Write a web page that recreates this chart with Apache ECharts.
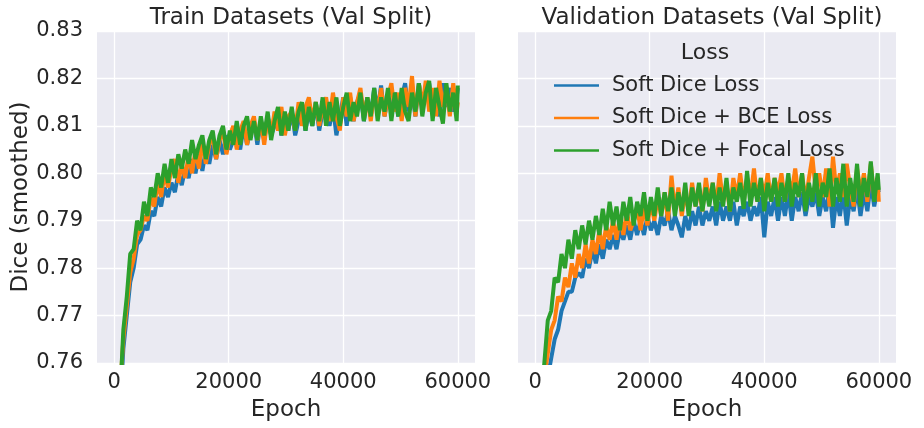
<!DOCTYPE html>
<html>
<head>
<meta charset="utf-8">
<script src="https://cdn.jsdelivr.net/npm/echarts@6/dist/echarts.min.js"></script>
<style>
  html, body { margin: 0; padding: 0; background: #fff; }
  #chart { width: 924px; height: 428px; }
</style>
</head>
<body>
<div id="chart"></div>
<script>
const epochs = [
  1000, 1600, 2200, 2800, 3400, 4000, 4600, 5200, 5800, 6400,
  7000, 7600, 8200, 8800, 9400, 10000, 10600, 11200, 11800, 12400,
  13000, 13600, 14200, 14800, 15400, 16000, 16600, 17200, 17800, 18400,
  19000, 19600, 20200, 20800, 21400, 22000, 22600, 23200, 23800, 24400,
  25000, 25600, 26200, 26800, 27400, 28000, 28600, 29200, 29800, 30400,
  31000, 31600, 32200, 32800, 33400, 34000, 34600, 35200, 35800, 36400,
  37000, 37600, 38200, 38800, 39400, 40000, 40600, 41200, 41800, 42400,
  43000, 43600, 44200, 44800, 45400, 46000, 46600, 47200, 47800, 48400,
  49000, 49600, 50200, 50800, 51400, 52000, 52600, 53200, 53800, 54400,
  55000, 55600, 56200, 56800, 57400, 58000, 58600, 59200, 59800, 60000
];
const xTicks = [0, 20000, 40000, 60000];
const lossNames = ['Soft Dice Loss', 'Soft Dice + BCE Loss', 'Soft Dice + Focal Loss'];
const panelTitles = ['Train Datasets (Val Split)', 'Validation Datasets (Val Split)'];

// train panel
const trainSoftDice = [
  0.750, 0.763, 0.770, 0.777, 0.780, 0.785, 0.786, 0.789, 0.788, 0.792,
  0.791, 0.795, 0.793, 0.797, 0.795, 0.798, 0.796, 0.800, 0.7975, 0.801,
  0.799, 0.803, 0.800, 0.804, 0.8005, 0.805, 0.802, 0.806, 0.803, 0.807,
  0.804, 0.808, 0.805, 0.807, 0.809, 0.805, 0.810, 0.806, 0.809, 0.811,
  0.806, 0.811, 0.807, 0.812, 0.808, 0.810, 0.813, 0.808, 0.812, 0.809,
  0.813, 0.808, 0.811, 0.814, 0.809, 0.813, 0.810, 0.815, 0.809, 0.813,
  0.815, 0.810, 0.814, 0.808, 0.812, 0.816, 0.810, 0.816, 0.811, 0.815,
  0.817, 0.811, 0.816, 0.812, 0.818, 0.813, 0.8185, 0.812, 0.816, 0.813,
  0.817, 0.812, 0.816, 0.819, 0.813, 0.817, 0.812, 0.819, 0.814, 0.817,
  0.819, 0.813, 0.817, 0.812, 0.819, 0.814, 0.818, 0.813, 0.816, 0.818
];
const trainBce = [
  0.754, 0.765, 0.772, 0.779, 0.782, 0.787, 0.788, 0.791, 0.790, 0.795,
  0.793, 0.798, 0.795, 0.800, 0.797, 0.801, 0.803, 0.798, 0.802, 0.799,
  0.804, 0.800, 0.805, 0.801, 0.807, 0.802, 0.806, 0.808, 0.803, 0.807,
  0.809, 0.804, 0.808, 0.810, 0.805, 0.809, 0.811, 0.806, 0.810, 0.812,
  0.807, 0.811, 0.806, 0.812, 0.808, 0.813, 0.809, 0.814, 0.808, 0.812,
  0.813, 0.809, 0.815, 0.810, 0.814, 0.816, 0.811, 0.815, 0.810, 0.814,
  0.816, 0.811, 0.817, 0.812, 0.809, 0.816, 0.812, 0.817, 0.811, 0.815,
  0.818, 0.812, 0.816, 0.811, 0.817, 0.813, 0.818, 0.812, 0.816, 0.819,
  0.813, 0.817, 0.811, 0.818, 0.814, 0.8205, 0.812, 0.819, 0.814, 0.8195,
  0.813, 0.818, 0.812, 0.8195, 0.814, 0.818, 0.812, 0.819, 0.813, 0.815
];
const trainFocal = [
  0.752, 0.767, 0.774, 0.783, 0.784, 0.790, 0.788, 0.794, 0.791, 0.797,
  0.795, 0.800, 0.797, 0.802, 0.798, 0.803, 0.799, 0.804, 0.801, 0.805,
  0.802, 0.807, 0.803, 0.806, 0.808, 0.803, 0.807, 0.809, 0.804, 0.808,
  0.810, 0.805, 0.809, 0.806, 0.811, 0.806, 0.810, 0.812, 0.807, 0.811,
  0.807, 0.812, 0.808, 0.813, 0.807, 0.811, 0.814, 0.808, 0.813, 0.809,
  0.814, 0.809, 0.813, 0.815, 0.809, 0.814, 0.810, 0.815, 0.811, 0.816,
  0.810, 0.815, 0.811, 0.816, 0.810, 0.814, 0.817, 0.811, 0.815, 0.812,
  0.817, 0.811, 0.816, 0.812, 0.818, 0.811, 0.816, 0.813, 0.818, 0.811,
  0.817, 0.812, 0.818, 0.813, 0.811, 0.817, 0.813, 0.819, 0.812, 0.817,
  0.8195, 0.811, 0.818, 0.814, 0.8105, 0.819, 0.813, 0.817, 0.811, 0.8185
];

// validation panel
const valSoftDice = [
  0.745, 0.752, 0.757, 0.761, 0.765, 0.767, 0.771, 0.773, 0.775, 0.775,
  0.778, 0.779, 0.778, 0.782, 0.780, 0.784, 0.781, 0.785, 0.782, 0.786,
  0.784, 0.787, 0.784, 0.788, 0.786, 0.789, 0.786, 0.790, 0.787, 0.790,
  0.787, 0.791, 0.788, 0.790, 0.787, 0.791, 0.789, 0.792, 0.788, 0.791,
  0.789, 0.7865, 0.791, 0.788, 0.792, 0.789, 0.793, 0.789, 0.792, 0.790,
  0.793, 0.789, 0.794, 0.790, 0.793, 0.790, 0.794, 0.789, 0.793, 0.791,
  0.794, 0.790, 0.793, 0.791, 0.795, 0.7865, 0.794, 0.791, 0.795, 0.790,
  0.795, 0.791, 0.796, 0.790, 0.795, 0.792, 0.796, 0.791, 0.795, 0.793,
  0.796, 0.791, 0.795, 0.792, 0.797, 0.7885, 0.795, 0.791, 0.796, 0.789,
  0.795, 0.792, 0.797, 0.791, 0.796, 0.792, 0.798, 0.793, 0.797, 0.796
];
const valBce = [
  0.750, 0.757, 0.762, 0.767, 0.769, 0.774, 0.773, 0.778, 0.776, 0.781,
  0.778, 0.783, 0.780, 0.785, 0.781, 0.786, 0.783, 0.788, 0.784, 0.789,
  0.786, 0.790, 0.786, 0.791, 0.787, 0.792, 0.788, 0.790, 0.793, 0.788,
  0.793, 0.789, 0.794, 0.790, 0.795, 0.791, 0.796, 0.790, 0.7995, 0.792,
  0.797, 0.791, 0.796, 0.792, 0.798, 0.793, 0.797, 0.792, 0.799, 0.794,
  0.798, 0.793, 0.800, 0.794, 0.798, 0.792, 0.799, 0.795, 0.800, 0.794,
  0.799, 0.795, 0.801, 0.794, 0.799, 0.795, 0.800, 0.794, 0.799, 0.796,
  0.800, 0.794, 0.799, 0.796, 0.801, 0.795, 0.800, 0.794, 0.799, 0.8035,
  0.796, 0.800, 0.795, 0.801, 0.793, 0.8035, 0.796, 0.800, 0.795, 0.802,
  0.797, 0.793, 0.801, 0.796, 0.800, 0.794, 0.802, 0.795, 0.799, 0.794
];
const valFocal = [
  0.752, 0.760, 0.769, 0.771, 0.778, 0.777, 0.783, 0.780, 0.786, 0.782,
  0.788, 0.784, 0.789, 0.785, 0.790, 0.786, 0.791, 0.787, 0.7925, 0.788,
  0.794, 0.789, 0.793, 0.788, 0.794, 0.790, 0.795, 0.789, 0.794, 0.791,
  0.796, 0.790, 0.795, 0.791, 0.797, 0.791, 0.796, 0.792, 0.797, 0.791,
  0.796, 0.792, 0.798, 0.791, 0.797, 0.793, 0.798, 0.792, 0.797, 0.793,
  0.798, 0.792, 0.797, 0.793, 0.799, 0.792, 0.797, 0.794, 0.798, 0.7925,
  0.8005, 0.793, 0.798, 0.794, 0.799, 0.792, 0.798, 0.794, 0.799, 0.793,
  0.798, 0.794, 0.800, 0.793, 0.798, 0.795, 0.800, 0.792, 0.798, 0.794,
  0.800, 0.793, 0.798, 0.795, 0.801, 0.793, 0.799, 0.794, 0.802, 0.793,
  0.799, 0.794, 0.802, 0.793, 0.799, 0.795, 0.8025, 0.794, 0.800, 0.7965
];

const colors = ['#1f77b4', '#ff7f0e', '#2ca02c'];
const textColor = '#262626';
const font = 'DejaVu Sans';

function pairs(vals) {
  return epochs.map((e, i) => [e, vals[i]]);
}

function xAxisFor(gridIndex) {
  return {
    gridIndex: gridIndex,
    type: 'value',
    min: -3000,
    max: 63000,
    name: 'Epoch',
    nameLocation: 'middle',
    nameGap: 36,
    nameTextStyle: { color: textColor, fontSize: 23, fontFamily: font },
    axisLine: { show: false },
    axisTick: { show: false, customValues: xTicks },
    axisLabel: {
      customValues: xTicks, color: textColor, fontSize: 21, fontFamily: font, margin: 9,
      formatter: v => String(v)
    },
    splitLine: { show: true, lineStyle: { color: '#fff', width: 1.3 } }
  };
}

function yAxisFor(gridIndex, showLabels) {
  return {
    gridIndex: gridIndex,
    type: 'value',
    min: 0.76,
    max: 0.83,
    interval: 0.01,
    name: showLabels ? 'Dice (smoothed)' : '',
    nameLocation: 'middle',
    nameGap: 62,
    nameTextStyle: { color: textColor, fontSize: 23, fontFamily: font },
    axisLine: { show: false },
    axisTick: { show: false },
    axisLabel: {
      show: showLabels,
      color: textColor, fontSize: 21, fontFamily: font, margin: 14,
      formatter: v => v.toFixed(2)
    },
    splitLine: { show: true, lineStyle: { color: '#fff', width: 1.3 } }
  };
}

const panels = [
  [trainSoftDice, trainBce, trainFocal],
  [valSoftDice, valBce, valFocal]
];
const series = [];
panels.forEach((panel, p) => {
  panel.forEach((vals, k) => {
    series.push({
      name: lossNames[k],
      type: 'line',
      xAxisIndex: p,
      yAxisIndex: p,
      data: pairs(vals),
      showSymbol: false,
      symbol: 'none',
      clip: true,
      color: colors[k],
      lineStyle: { width: 4, color: colors[k] }
    });
  });
});

const chart = echarts.init(document.getElementById('chart'), null, { renderer: 'canvas' });
chart.setOption({
  animation: false,
  backgroundColor: '#fff',
  title: [
    { text: panelTitles[0], left: 286, top: 2, textAlign: 'center',
      textStyle: { color: textColor, fontSize: 23, fontWeight: 'normal', fontFamily: font } },
    { text: panelTitles[1], left: 707, top: 2, textAlign: 'center',
      textStyle: { color: textColor, fontSize: 23, fontWeight: 'normal', fontFamily: font } },
    { text: 'Loss', left: 700, top: 37, textAlign: 'center',
      textStyle: { color: textColor, fontSize: 22, fontWeight: 'normal', fontFamily: font } }
  ],
  grid: [
    { left: 97, top: 31, width: 378, height: 332, show: true, backgroundColor: '#eaeaf2', borderWidth: 0, outerBoundsMode: 'none' },
    { left: 518, top: 31, width: 378, height: 332, show: true, backgroundColor: '#eaeaf2', borderWidth: 0, outerBoundsMode: 'none' }
  ],
  legend: {
    data: lossNames,
    orient: 'vertical',
    left: 549,
    top: 70,
    icon: 'rect',
    itemWidth: 45,
    itemHeight: 2.5,
    itemGap: 11.5,
    textStyle: { color: textColor, fontSize: 21, fontFamily: font, lineHeight: 21, padding: [0, 0, 0, 8] }
  },
  xAxis: [xAxisFor(0), xAxisFor(1)],
  yAxis: [yAxisFor(0, true), yAxisFor(1, false)],
  series: series
});
</script>
</body>
</html>
